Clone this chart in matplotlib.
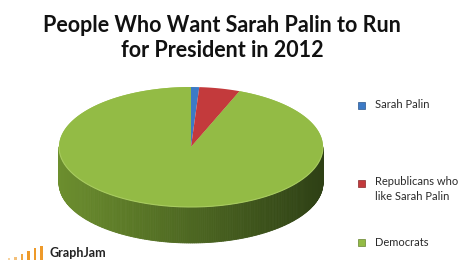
import numpy as np
import matplotlib
matplotlib.use("Agg")
import matplotlib.pyplot as plt
from matplotlib.patches import Polygon, Rectangle
from matplotlib.colors import to_rgb

# data
labels = ["Sarah Palin", "Republicans who\nlike Sarah Palin", "Democrats"]
values = [1, 5, 94]
colors = ["#3C7AC6", "#C33A3C", "#93BB45"]
title = "People Who Want Sarah Palin to Run\nfor President in 2012"

# logo bar heights
logo_heights = [2, 3, 6, 9, 12, 14]

fig = plt.figure(figsize=(4.73, 2.68), dpi=100)
ax = fig.add_axes([0, 0, 1, 1])
ax.set_xlim(0, 473)
ax.set_ylim(268, 0)
ax.axis("off")

cx, cy = 191, 147
rx, ry = 132, 60
depth = 36


def pt(t, dy=0):
    r = np.radians(t)
    return cx + rx * np.cos(r), cy - ry * np.sin(r) + dy


fracs = np.array(values) / np.sum(values)
starts = 90 - 360 * np.concatenate([[0], np.cumsum(fracs)[:-1]])
ends = starts - 360 * fracs

dark_l = np.array(to_rgb("#6C8E2E"))
dark_r = np.array(to_rgb("#2E4015"))

# side of the pie (only the front half is visible)
for s, e, c in zip(starts, ends, colors):
    ts = np.linspace(s, e, 400)
    for a, b in zip(ts[:-1], ts[1:]):
        if np.sin(np.radians((a + b) / 2)) >= 0:
            continue
        k = (np.cos(np.radians((a + b) / 2)) + 1) / 2
        if c == colors[2]:
            col = dark_l * (1 - k) + dark_r * k
        else:
            col = np.array(to_rgb(c)) * 0.6
        p = [pt(a), pt(b), pt(b, depth), pt(a, depth)]
        ax.add_patch(Polygon(p, closed=True, fc=col, ec=col, lw=0.6))

# top face
for s, e, c in zip(starts, ends, colors):
    ts = np.linspace(s, e, 300)
    p = [(cx, cy)] + [pt(t) for t in ts]
    ax.add_patch(Polygon(p, closed=True, fc=c, ec="none", zorder=3))

# subtle lighter gradient on the top of the green face
grad = np.linspace(0, 1, 100).reshape(-1, 1)
top_col = np.array(to_rgb("#A0C752"))
bot_col = np.array(to_rgb("#87AE39"))
img = top_col * (1 - grad[..., None]) + bot_col * grad[..., None]
im = ax.imshow(img, extent=(cx - rx, cx + rx, cy + ry, cy - ry), aspect="auto", zorder=2.5)
ts = np.linspace(starts[2], ends[2], 300)
clip = Polygon([(cx, cy)] + [pt(t) for t in ts], closed=True, transform=ax.transData)
im.set_clip_path(clip)
ax.set_xlim(0, 473)
ax.set_ylim(268, 0)

# rim highlight on the front edge
tr = np.linspace(180, 360, 200)
rim = np.array([pt(t) for t in tr])
ax.plot(rim[:, 0], rim[:, 1], color="#A8CB60", lw=0.8, zorder=4)

# title
ax.text(222, 38, title, ha="center", va="center", fontsize=15.5, fontweight="bold",
        family="Lato", color="#111111", linespacing=1.25)

# legend
leg_y = [105, 189, 242]
for lab, c, y in zip(labels, colors, leg_y):
    yy = y - 6 if "\n" in lab else y
    ax.add_patch(Rectangle((358, yy - 3.5), 7, 7, fc=c, ec=np.array(to_rgb(c)) * 0.7, lw=0.5))
    ax.text(375, y, lab, ha="left", va="center", fontsize=8, family="Lato",
            color="#2A2A2A", linespacing=1.35)

# GraphJam logo
lx = np.arange(len(logo_heights)) * 6.5 + 9
ax.bar(lx, [-h for h in logo_heights], width=2.6, bottom=260,
       color=["#F6D2A0", "#F3C07A", "#F0A640", "#EE9A2A", "#EE9A2A", "#EE9A2A"])
ax.text(49, 253, "GraphJam", ha="left", va="center", fontsize=9, fontweight="bold",
        family="Lato", color="#222222")

fig.savefig("out.png", dpi=100)
